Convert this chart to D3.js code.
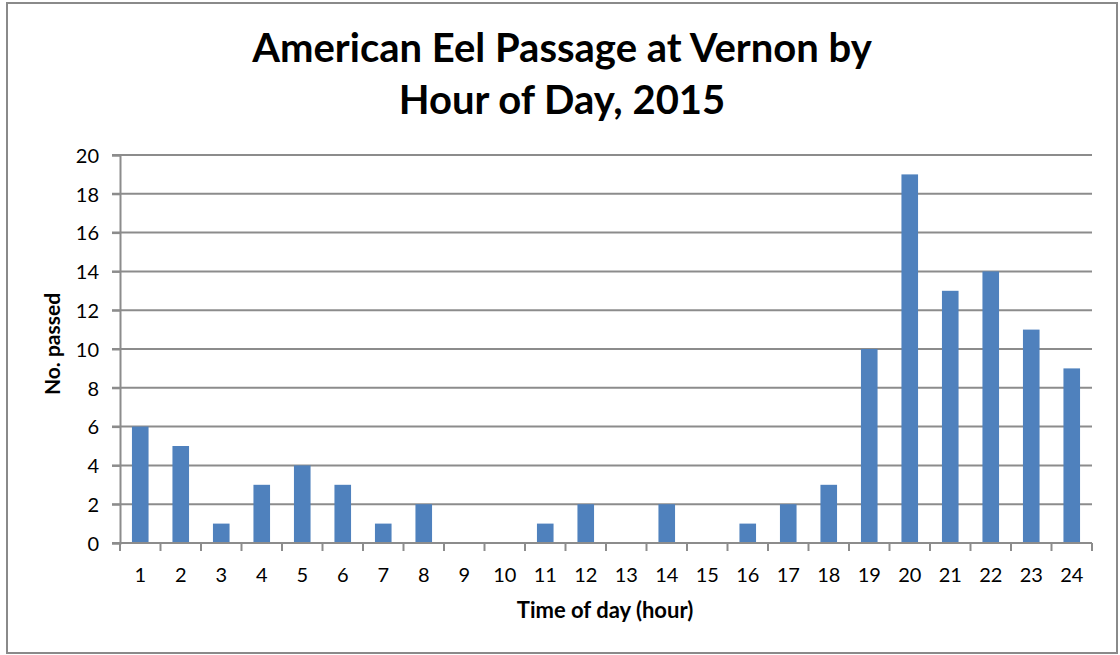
<!DOCTYPE html>
<html>
<head>
<meta charset="utf-8">
<script src="https://cdn.jsdelivr.net/npm/d3@7"></script>
<style>
  body { margin: 0; background: #fff; }
  text { font-family: Lato, "Open Sans", sans-serif; fill: #000; }
</style>
</head>
<body>
<div id="chart"></div>
<script>
// data
var hours = ["1","2","3","4","5","6","7","8","9","10","11","12",
             "13","14","15","16","17","18","19","20","21","22","23","24"];
var passed = [6, 5, 1, 3, 4, 3, 1, 2, 0, 0, 1, 2, 0, 2, 0, 1, 2, 3, 10, 19, 13, 14, 11, 9];
var yTicks = [0, 2, 4, 6, 8, 10, 12, 14, 16, 18, 20];
var titleLines = ["American Eel Passage at Vernon by", "Hour of Day, 2015"];

(function() {
    var W = 1120, H = 655;
    // plot area edges (note: "top" is reserved on window, so use pTop)
    var pLeft = 120, pRight = 1092, pTop = 155, pBottom = 543;
    var gridCol = "#8c8c8c";

    var svg = d3.select("#chart").append("svg")
        .attr("width", W)
        .attr("height", H);

    // outer frame
    svg.append("rect")
        .attr("x", 7).attr("y", 3)
        .attr("width", 1110).attr("height", 650)
        .attr("fill", "#fff")
        .attr("stroke", "#8a8a8a")
        .attr("stroke-width", 2);

    var x = d3.scaleBand()
        .domain(hours)
        .range([pLeft, pRight])
        .paddingInner(0.59)
        .paddingOuter(0.295);

    var y = d3.scaleLinear()
        .domain([0, 20])
        .range([pBottom, pTop]);

    // gridlines
    svg.append("g")
        .selectAll("line")
        .data(yTicks.slice(1))
        .enter()
        .append("line")
        .attr("x1", pLeft - 8)
        .attr("x2", pRight)
        .attr("y1", function(d) { return y(d); })
        .attr("y2", function(d) { return y(d); })
        .attr("stroke", gridCol)
        .attr("stroke-width", 2);

    // y axis
    var yAxis = d3.axisLeft(y).tickValues(yTicks).tickSize(8).tickPadding(13);
    var gy = svg.append("g")
        .attr("transform", "translate(" + pLeft + ",0)")
        .call(yAxis);
    gy.select(".domain").attr("stroke", gridCol).attr("stroke-width", 2);
    gy.selectAll(".tick line").attr("stroke", gridCol).attr("stroke-width", 2);
    gy.selectAll(".tick text")
        .attr("font-family", null)
        .style("font-size", "20px")
        .attr("dy", "0.36em");

    // bars
    svg.append("g")
        .selectAll("rect")
        .data(hours.map(function(h, i) { return [h, passed[i]]; }))
        .enter()
        .append("rect")
        .attr("x", function(v) { return x(v[0]); })
        .attr("y", function(v) { return y(v[1]); })
        .attr("width", x.bandwidth())
        .attr("height", function(v) { return pBottom - y(v[1]); })
        .attr("fill", "#4f81bd");

    // x axis: ticks at category boundaries
    var step = x.step();
    var gx = svg.append("g")
        .attr("transform", "translate(0," + pBottom + ")");
    gx.append("line")
        .attr("x1", pLeft - 8).attr("x2", pRight)
        .attr("stroke", gridCol).attr("stroke-width", 2);
    gx.selectAll(".bnd")
        .data(d3.range(hours.length + 1))
        .enter()
        .append("line")
        .attr("x1", function(i) { return pLeft + i * step; })
        .attr("x2", function(i) { return pLeft + i * step; })
        .attr("y1", 0).attr("y2", 8)
        .attr("stroke", gridCol).attr("stroke-width", 2);
    gx.selectAll(".lbl")
        .data(hours)
        .enter()
        .append("text")
        .attr("x", function(h) { return x(h) + x.bandwidth() / 2; })
        .attr("y", 39)
        .attr("text-anchor", "middle")
        .style("font-size", "20px")
        .text(function(h) { return h; });

    // axis titles
    svg.append("text")
        .attr("x", 605).attr("y", 618)
        .attr("text-anchor", "middle")
        .style("font-size", "22px")
        .style("font-weight", "bold")
        .text("Time of day (hour)");

    svg.append("text")
        .attr("transform", "translate(60,344) rotate(-90)")
        .attr("text-anchor", "middle")
        .style("font-size", "21px")
        .style("font-weight", "bold")
        .text("No. passed");

    // title
    svg.append("g")
        .selectAll("text")
        .data(titleLines)
        .enter()
        .append("text")
        .attr("x", 562)
        .attr("y", function(d, i) { return 62 + i * 52; })
        .attr("text-anchor", "middle")
        .style("font-size", "40px")
        .style("font-weight", "bold")
        .text(function(d) { return d; });
})();
</script>
</body>
</html>
